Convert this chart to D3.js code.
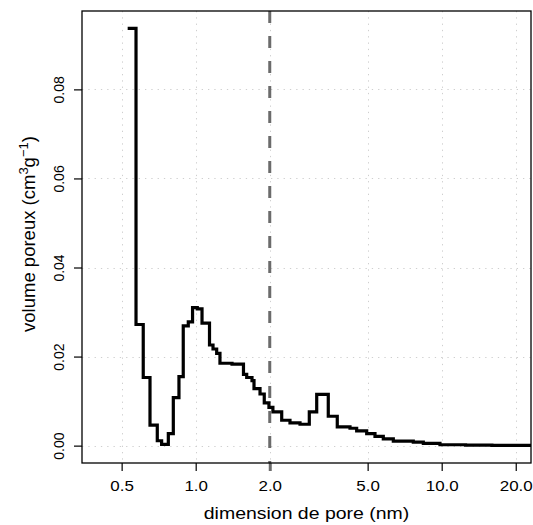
<!DOCTYPE html>
<html>
<head>
<meta charset="utf-8">
<script src="https://cdn.jsdelivr.net/npm/d3@7"></script>
<style>
  html, body { margin: 0; padding: 0; background: #fff; }
  svg { display: block; }
  text { font-family: "Liberation Sans", Arial, Helvetica, sans-serif; fill: #000; }
</style>
</head>
<body>
<svg id="chart" width="533" height="525"></svg>
<script>
// Pore size (nm) at the start of each step, and pore volume (cm3/g)
const poreSize = [0.529, 0.572, 0.612, 0.652, 0.698, 0.727, 0.774, 0.811, 0.855, 0.890,
  0.933, 0.971, 1.015, 1.061, 1.138, 1.176, 1.217, 1.255, 1.405, 1.564,
  1.612, 1.694, 1.726, 1.826, 1.900, 1.985, 2.060, 2.237, 2.417, 2.655,
  2.896, 3.104, 3.459, 3.763, 4.239, 4.512, 4.956, 5.356, 5.789, 6.358,
  7.665, 8.420, 9.840, 12.5, 16.0, 24.0];
const poreVolume = [0.0937, 0.0272, 0.0153, 0.0046, 0.0011, 0.0003, 0.0027, 0.0108, 0.0155, 0.0269,
  0.0278, 0.0310, 0.0307, 0.0275, 0.0226, 0.0217, 0.0207, 0.0185, 0.0183, 0.0160,
  0.0153, 0.0146, 0.0128, 0.0116, 0.0096, 0.0086, 0.0076, 0.0057, 0.0051, 0.0048,
  0.0076, 0.0115, 0.0066, 0.0042, 0.0039, 0.0033, 0.0027, 0.0021, 0.0015, 0.0010,
  0.0008, 0.0005, 0.0002, 0.0001, 0.00005, 0.00005];
const xTicks = [0.5, 1.0, 2.0, 5.0, 10.0, 20.0];
const xTickLabels = ["0.5", "1.0", "2.0", "5.0", "10.0", "20.0"];
const yTicks = [0.00, 0.02, 0.04, 0.06, 0.08];
const yTickLabels = ["0.00", "0.02", "0.04", "0.06", "0.08"];
const microMesoLimit = 2.0;
const xTitle = "dimension de pore (nm)";

const svg = d3.select("#chart");
const L = 82, R = 531, T = 11, B = 463;
const SX = 1.13; // horizontal stretch of the lettering

const x = d3.scaleLog().domain([0.345, 23.07]).range([L, R]);
const y = d3.scaleLinear().domain([-0.0039, 0.0976]).range([B, T]);

svg.append("defs").append("clipPath").attr("id", "clip")
  .append("rect").attr("x", L).attr("y", T).attr("width", R - L).attr("height", B - T);

// grid
const grid = svg.append("g").attr("stroke", "#cfcfcf").attr("stroke-width", 1)
  .attr("stroke-dasharray", "1.3,5");
grid.selectAll("line.v").data(xTicks).join("line").attr("class", "v")
  .attr("x1", d => Math.round(x(d)) + 0.5).attr("x2", d => Math.round(x(d)) + 0.5)
  .attr("y1", T).attr("y2", B);
grid.selectAll("line.h").data(yTicks).join("line").attr("class", "h")
  .attr("y1", d => Math.round(y(d)) + 0.5).attr("y2", d => Math.round(y(d)) + 0.5)
  .attr("x1", L).attr("x2", R);

// axes
const xAxis = d3.axisBottom(x).tickValues(xTicks).tickFormat((d, i) => xTickLabels[i])
  .tickSize(8).tickSizeOuter(0);
const gx = svg.append("g").attr("transform", `translate(0,${B})`).call(xAxis);
gx.select(".domain").remove();
gx.selectAll(".tick line")
  .attr("stroke", d => d === microMesoLimit ? "#6b6b6b" : "#000")
  .attr("stroke-width", d => d === microMesoLimit ? 3 : 1.2);
gx.selectAll(".tick text").attr("y", 0).attr("dy", null)
  .attr("transform", `translate(0,28) scale(${SX},1)`)
  .style("font-size", "15px").style("font-family", "Liberation Sans, Arial, sans-serif");

const yAxis = d3.axisLeft(y).tickValues(yTicks).tickFormat((d, i) => yTickLabels[i])
  .tickSize(8).tickSizeOuter(0);
const gy = svg.append("g").attr("transform", `translate(${L},0)`).call(yAxis);
gy.select(".domain").remove();
gy.selectAll(".tick line").attr("stroke", "#000").attr("stroke-width", 1.2);
gy.selectAll(".tick text").attr("x", 0).attr("dy", null)
  .attr("text-anchor", "middle")
  .attr("transform", `translate(-18,0) scale(1.08,1) rotate(-90)`)
  .style("font-size", "14px").style("font-family", "Liberation Sans, Arial, sans-serif");

// step line
const line = d3.line().x((d, i) => x(poreSize[i])).y(d => y(d)).curve(d3.curveStepAfter);
svg.append("path").datum(poreVolume)
  .attr("clip-path", "url(#clip)")
  .attr("d", line).attr("fill", "none").attr("stroke", "#000")
  .attr("stroke-width", 3.2).attr("stroke-linejoin", "miter").attr("stroke-linecap", "butt");

// dashed limit line
svg.append("line")
  .attr("x1", x(microMesoLimit)).attr("x2", x(microMesoLimit))
  .attr("y1", T).attr("y2", B)
  .attr("stroke", "#6b6b6b").attr("stroke-width", 3)
  .attr("stroke-dasharray", "12,13");

// box
svg.append("rect").attr("x", L).attr("y", T).attr("width", R - L).attr("height", B - T)
  .attr("fill", "none").attr("stroke", "#000").attr("stroke-width", 1.3);

// titles
svg.append("text")
  .attr("transform", `translate(${(L + R) / 2},519) scale(1.18,1)`)
  .attr("text-anchor", "middle")
  .style("font-size", "16.5px").text(xTitle);

const yt = svg.append("text")
  .attr("transform", `translate(35,${(T + B) / 2 - 3}) rotate(-90)`)
  .attr("text-anchor", "middle").style("font-size", "18.5px");
yt.append("tspan").text("volume poreux (cm");
yt.append("tspan").attr("dy", -7).style("font-size", "13px").text("3");
yt.append("tspan").attr("dy", 7).text("g");
yt.append("tspan").attr("dy", -7).style("font-size", "13px").text("\u22121");
yt.append("tspan").attr("dy", 7).text(")");
</script>
</body>
</html>
